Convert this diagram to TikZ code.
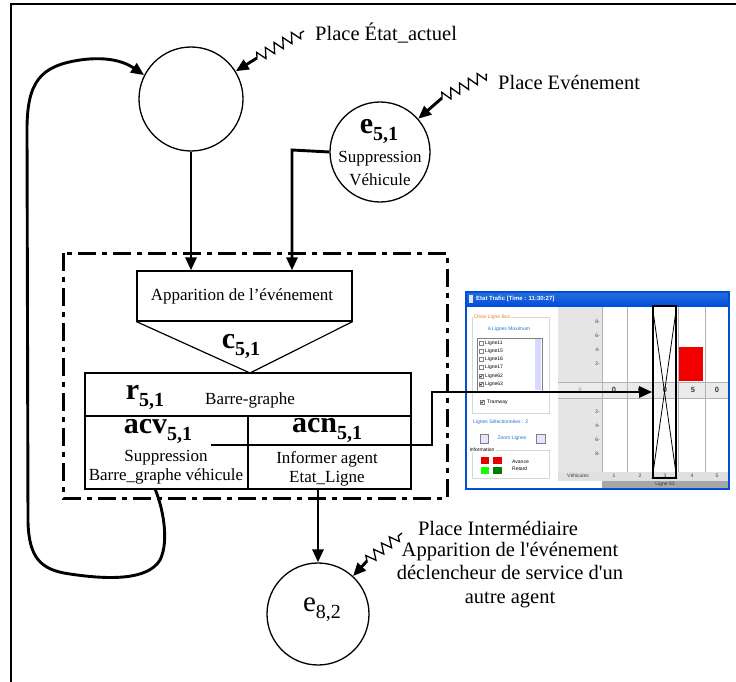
\documentclass[tikz,border=0pt]{standalone}
\usepackage{fontspec}
\setmainfont{Liberation Serif}
\newfontfamily\uifont{Liberation Sans}
\usetikzlibrary{arrows.meta,decorations.pathmorphing,calc}
\newcommand\mybsub[2]{{\fontsize{30}{30}\selectfont\bfseries #1}\raisebox{-7pt}{\fontsize{20}{20}\selectfont\bfseries #2}}
\newcommand\myrsub[2]{{\fontsize{29}{29}\selectfont #1}\raisebox{-7pt}{\fontsize{20}{20}\selectfont #2}}
\newcommand\lbfont{\fontsize{20.5}{23.5}\selectfont}
\newcommand\smfont{\fontsize{17}{19.5}\selectfont}
\newcommand\uit{\uifont\fontsize{5}{6}\selectfont}
\newcommand\sq{\XeTeXglyph\XeTeXcharglyph"27\relax}
\definecolor{winblue}{RGB}{0,78,220}
\definecolor{uiblue}{RGB}{40,110,220}
\definecolor{uiorange}{RGB}{230,130,40}
\definecolor{uigray}{RGB}{215,215,215}
\definecolor{uidark}{RGB}{60,60,60}
\tikzset{
  place/.style={circle,draw,line width=1.3pt,inner sep=0pt},
  cell/.style={rectangle,draw,line width=1.2pt,inner sep=0pt},
  arr/.style={line width=2.9pt,-{Triangle[length=13pt,width=11pt]}},
  zz/.style={line width=1.3pt,decorate,decoration={zigzag,segment length=10pt,amplitude=5pt}},
  dashbox/.style={line width=3pt,dash pattern=on 18pt off 6pt on 5pt off 6pt},
  lbl/.style={inner sep=0pt,font=\lbfont},
  sm/.style={inner sep=0pt,font=\smfont},
  ui/.style={inner sep=0pt,font=\uit},
}
\begin{document}
\begin{tikzpicture}[x=1pt,y=-1pt]
\useasboundingbox (0,0) rectangle (736,682);
% frame
\draw[line width=1.2pt] (736,4) -- (11,4) -- (11,682);

% places
\node[place,minimum size=104pt] (c1) at (191,99) {};
\node[place,minimum size=100pt] (e51) at (380,152) {};
\node[inner sep=0pt] (e51t) at (379,131) {\mybsub{e}{5,1}};
\node[sm] (e51a) at (380,159) {Suppression};
\node[sm] (e51b) at (380,180) {Véhicule};
\node[place,minimum size=102pt] (e82) at (318,614) {};
\node[inner sep=0pt] (e82t) at (322,610) {\myrsub{e}{8,2}};

% labels with zigzags
\node[lbl,anchor=west] (l1) at (315,33) {Place État\_actuel};
\node[lbl,anchor=west] (l2) at (498,82) {Place Evénement};
\node[lbl] (l3) at (498,528) {Place Intermédiaire};
\node[lbl,align=center] (l3b) at (510,575) {Apparition de l\sq événement\\déclencheur de service d\sq un\\autre agent};
\coordinate (z1m) at (257,58); \coordinate (z1s) at (304,31);
\coordinate (z2m) at (442,98); \coordinate (z2s) at (487,74);
\coordinate (z3m) at (367,561); \coordinate (z3s) at (402,533);
\draw[zz] (z1m) -- (z1s);
\draw[zz] (z2m) -- (z2s);
\draw[zz] (z3m) -- (z3s);
\draw[arr] (z1m) -- (c1);
\draw[arr] (z2m) -- (e51);
\draw[arr] (z3m) -- (e82);

% dash-dot box
\draw[dashbox] (63,253) rectangle (447,498);

% event box and triangle
\node[cell,minimum width=215pt,minimum height=50pt] (app) at (244.5,296) {};
\node[sm] (appt) at (242,296) {Apparition de l’événement};
\coordinate (apex) at (250,373);
\draw[line width=1.2pt] (app.south west) -- (apex) -- (app.south east);
\node[inner sep=0pt] (ct) at (241,346) {\mybsub{c}{5,1}};

% lower table
\node[cell,minimum width=326pt,minimum height=43pt] (rcell) at (248,394.5) {};
\node[cell,minimum width=163pt,minimum height=73pt] (acv) at (166.5,452.5) {};
\node[cell,minimum width=163pt,minimum height=73pt] (acn) at (329.5,452.5) {};
\node[inner sep=0pt] (rt) at (145,397) {\mybsub{r}{5,1}};
\node[sm] (rbt) at (250,400) {Barre-graphe};
\node[inner sep=0pt] (acvt) at (158,431) {\mybsub{acv}{5,1}};
\node[sm,align=center] (acvd) at (166,467) {Suppression\\Barre\_graphe véhicule};
\node[inner sep=0pt] (acnt) at (327,430) {\mybsub{acn}{5,1}};
\node[sm,align=center] (acnd) at (327,469) {Informer agent\\Etat\_Ligne};

% arrows into event box
\coordinate (a2) at (292,150);
\draw[arr] (c1.south) -- (c1.south |- app.north);
\draw[arr] (e51.west) -- (a2) -- (a2 |- app.north);

% arrow acn -> e82
\draw[arr] (e82.north |- acn.south) -- (e82.north);

% loop arrow acv -> c1
\coordinate (lp) at (155,489);
\draw[arr] (lp) .. controls (162,505) and (170,540) .. (160,560)
  .. controls (148,580) and (110,580) .. (70,574)
  .. controls (40,570) and (29,557) .. (28,522)
  -- (27,130)
  .. controls (27,82) and (40,66) .. (80,60)
  .. controls (108,56) and (125,62) .. (c1.153);

% ---------- screenshot ----------
\fill[white] (466,292) rectangle (729,489);
\shade[top color=uiblue,bottom color=winblue] (466,292) rectangle (729,306);
\node[ui,anchor=west,text=white,font=\uifont\fontsize{6}{7}\selectfont\bfseries] (tt) at (476,299) {Etat Trafic [Time : 11:30:27]};
\fill[white!80!gray] (468.5,295) rectangle (473,303);
% left panel
\draw[uigray,line width=0.6pt] (472,317) rectangle (549,413);
\node[ui,fill=white,text=uiorange,inner xsep=1pt] (gt1) at (492,317) {Choix Ligne Bus};
\node[ui,text=uiblue] (gt2) at (509,329) {6 Lignes Maximum};
\draw[gray,line width=0.6pt] (477,338) rectangle (542,391);
\fill[blue!15] (535,339) rectangle (541,390);
\foreach \y/\t/\c in {343/Ligne11/0,351/Ligne15/0,359/Ligne16/0,367/Ligne17/0,376/Ligne62/1,384/Ligne63/1}{
  \draw[gray,line width=0.4pt] (479,\y-2) rectangle (483,\y+2);
  \ifnum\c=1 \draw[line width=0.5pt] (479.8,\y) -- (481,\y+1.2) -- (482.4,\y-1.2); \fi
  \node[ui,anchor=west] at (485,\y) {\t};
}
\draw[gray,line width=0.4pt] (480,400) rectangle (484,404);
\draw[line width=0.5pt] (480.8,402) -- (482,403.2) -- (483.4,400.8);
\node[ui,anchor=west] (tram) at (487,402) {Tramway};
\node[ui,anchor=west,text=uiblue] (lsel) at (473,422) {Lignes Sélectionnées : 2};
\draw[gray,fill=blue!10,line width=0.4pt] (480,434) rectangle (488,443);
\draw[gray,fill=blue!10,line width=0.4pt] (536,434) rectangle (545,443);
\node[ui,text=uiblue] (zl) at (512,438) {Zoom Lignes};
\draw[uigray,line width=0.6pt] (472,450) rectangle (549,478);
\node[ui,fill=white,inner xsep=1pt] (info) at (482,450) {Information};
\fill[red!90!black] (481,457) rectangle (489,464);
\fill[red!90!black] (493,457) rectangle (502,464);
\fill[green!90!lime] (481,467) rectangle (489,474);
\fill[green!50!black] (493,467) rectangle (502,474);
\node[ui,anchor=west] (av) at (512,462) {Avance};
\node[ui,anchor=west] (rd) at (512,469) {Retard};
% chart
\fill[black!10] (558,307) rectangle (602,472);
\fill[black!8] (558,382) rectangle (729,398);
\foreach \x in {602,627,652,678,705} \draw[black!30,line width=0.6pt] (\x,307) -- (\x,472);
\draw[black!30,line width=0.6pt] (558,382) -- (729,382);
\draw[black!30,line width=0.6pt] (558,398) -- (729,398);
\foreach \y/\t in {322/8,336/6,350/4,364/2,412/2,426/4,440/6,454/8}
  \node[ui,anchor=east,text=uidark] at (600,\y) {\t-};
\node[ui,text=gray] at (580,390) {0};
\foreach \x/\t in {614/0,640/0,665/0,693/5,717/0}
  \node[ui,text=uidark,font=\uifont\fontsize{7.5}{8}\selectfont\bfseries] at (\x,390) {\t};
\fill[red!95!black] (679,347) rectangle (703,381);
\fill[black!12] (558,472) rectangle (729,481);
\node[ui,text=uidark] (veh) at (578,476) {Véhicules};
\foreach \x/\t in {614/1,640/2,665/3,692/4,717/5}
  \node[ui,text=uidark] at (\x,476) {\t};
\fill[black!35] (602,481) rectangle (729,488);
\node[ui,text=uidark] (lg) at (665,484.5) {Ligne 63};
\draw[winblue,line width=1.6pt] (466,292) rectangle (729,489);
% crossed rectangle
\node[draw,line width=1.6pt,minimum width=23pt,minimum height=172pt,inner sep=0pt] (xrect) at (664.5,392) {};
\draw[line width=0.8pt] (xrect.north west) -- (xrect.south east);
\draw[line width=0.8pt] (xrect.north east) -- (xrect.south west);

% arrow acv -> screenshot
\coordinate (sst) at (211,445);
\draw[arr] (sst) -- (432,445) |- (xrect.west);
\end{tikzpicture}
\end{document}
